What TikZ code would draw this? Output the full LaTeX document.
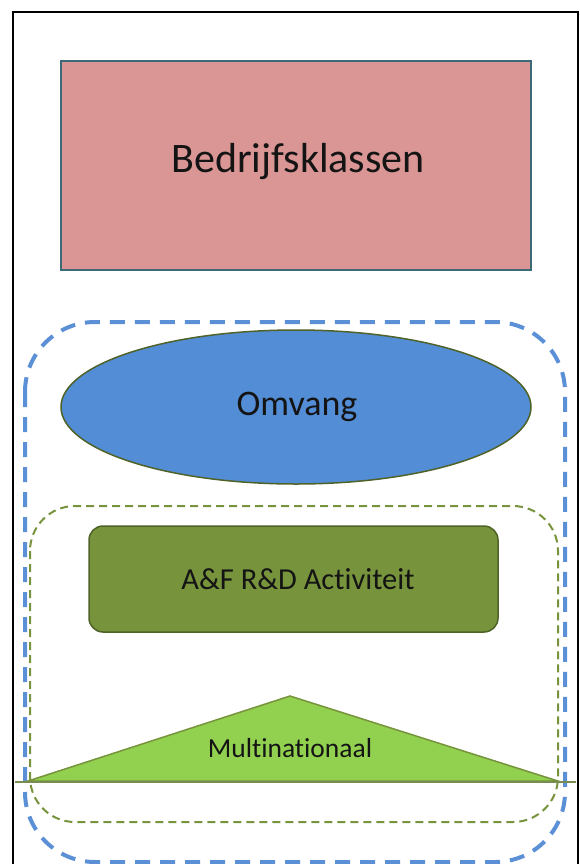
\documentclass[tikz,border=0pt]{standalone}
\usepackage{fontspec}
\setmainfont{Carlito}[Ligatures={NoCommon}]
\usetikzlibrary{shapes.geometric}
\definecolor{pinkfill}{HTML}{D99694}
\definecolor{tealedge}{HTML}{3E6A78}
\definecolor{bluefill}{HTML}{538DD5}
\definecolor{bluedash}{HTML}{5B8FD6}
\definecolor{olive}{HTML}{77933C}
\definecolor{darkolive}{HTML}{4F6228}
\definecolor{lightgreen}{HTML}{92D050}
\definecolor{txt}{HTML}{141414}
\tikzset{
  frame/.style={draw=black, line width=2pt},
  klasbox/.style={draw=tealedge, line width=2pt, fill=pinkfill},
  omvangell/.style={draw=darkolive, line width=1.5pt, fill=bluefill},
  actbox/.style={draw=darkolive, line width=1.5pt, fill=olive, rounded corners=14pt},
  bluegroup/.style={draw=bluedash, line width=4pt, dash pattern=on 15pt off 10pt, rounded corners=70pt},
  greengroup/.style={draw=olive, line width=2pt, dash pattern=on 8pt off 5pt, rounded corners=45pt},
  tri/.style={draw=olive, line width=1.5pt, fill=lightgreen, line join=miter},
  baseline/.style={draw=olive!70!gray, line width=1.2pt},
  lbl/.style={text=txt, inner sep=0pt}
}
\begin{document}
\begin{tikzpicture}[x=1pt,y=-1pt]
\useasboundingbox (0,0) rectangle (580,864);
% frame (open at the bottom)
\draw[frame] (13,875) -- (13,12) -- (578,12) -- (578,875);
% Bedrijfsklassen
\draw[klasbox] (61,61) rectangle (531,270);
\node[lbl, font=\fontsize{42}{48}\selectfont] (bk) at (298,162) {Bedrijfsklassen};
% blue dashed group
\draw[bluegroup] (25,322) rectangle (565,862);
% Omvang
\node[omvangell, ellipse, minimum width=470pt, minimum height=154pt, inner sep=0pt] (om) at (296,407) {};
\node[lbl, font=\fontsize{36}{42}\selectfont] at (297,407) {Omvang};
% green dashed group
\draw[greengroup] (30,506) rectangle (558,822);
% activity box
\node[actbox, minimum width=409pt, minimum height=106pt, inner sep=0pt] (act) at (293.5,579) {};
\node[lbl, font=\fontsize{30.5}{36}\selectfont] at (298,579) {A\&F R\&D Activiteit};
% triangle
\coordinate (tl) at (28,781);
\coordinate (tr) at (558,781);
\coordinate (tt) at (290,696);
\draw[tri] (tl) -- (tt) -- (tr) -- cycle;
\node[lbl, font=\fontsize{27.5}{32}\selectfont] (mn) at (290,748) {Multinationaal};
% horizontal line
\coordinate (hl) at (15,782);
\coordinate (hr) at (576,782);
\draw[baseline] (hl) -- (hr);
\end{tikzpicture}
\end{document}
